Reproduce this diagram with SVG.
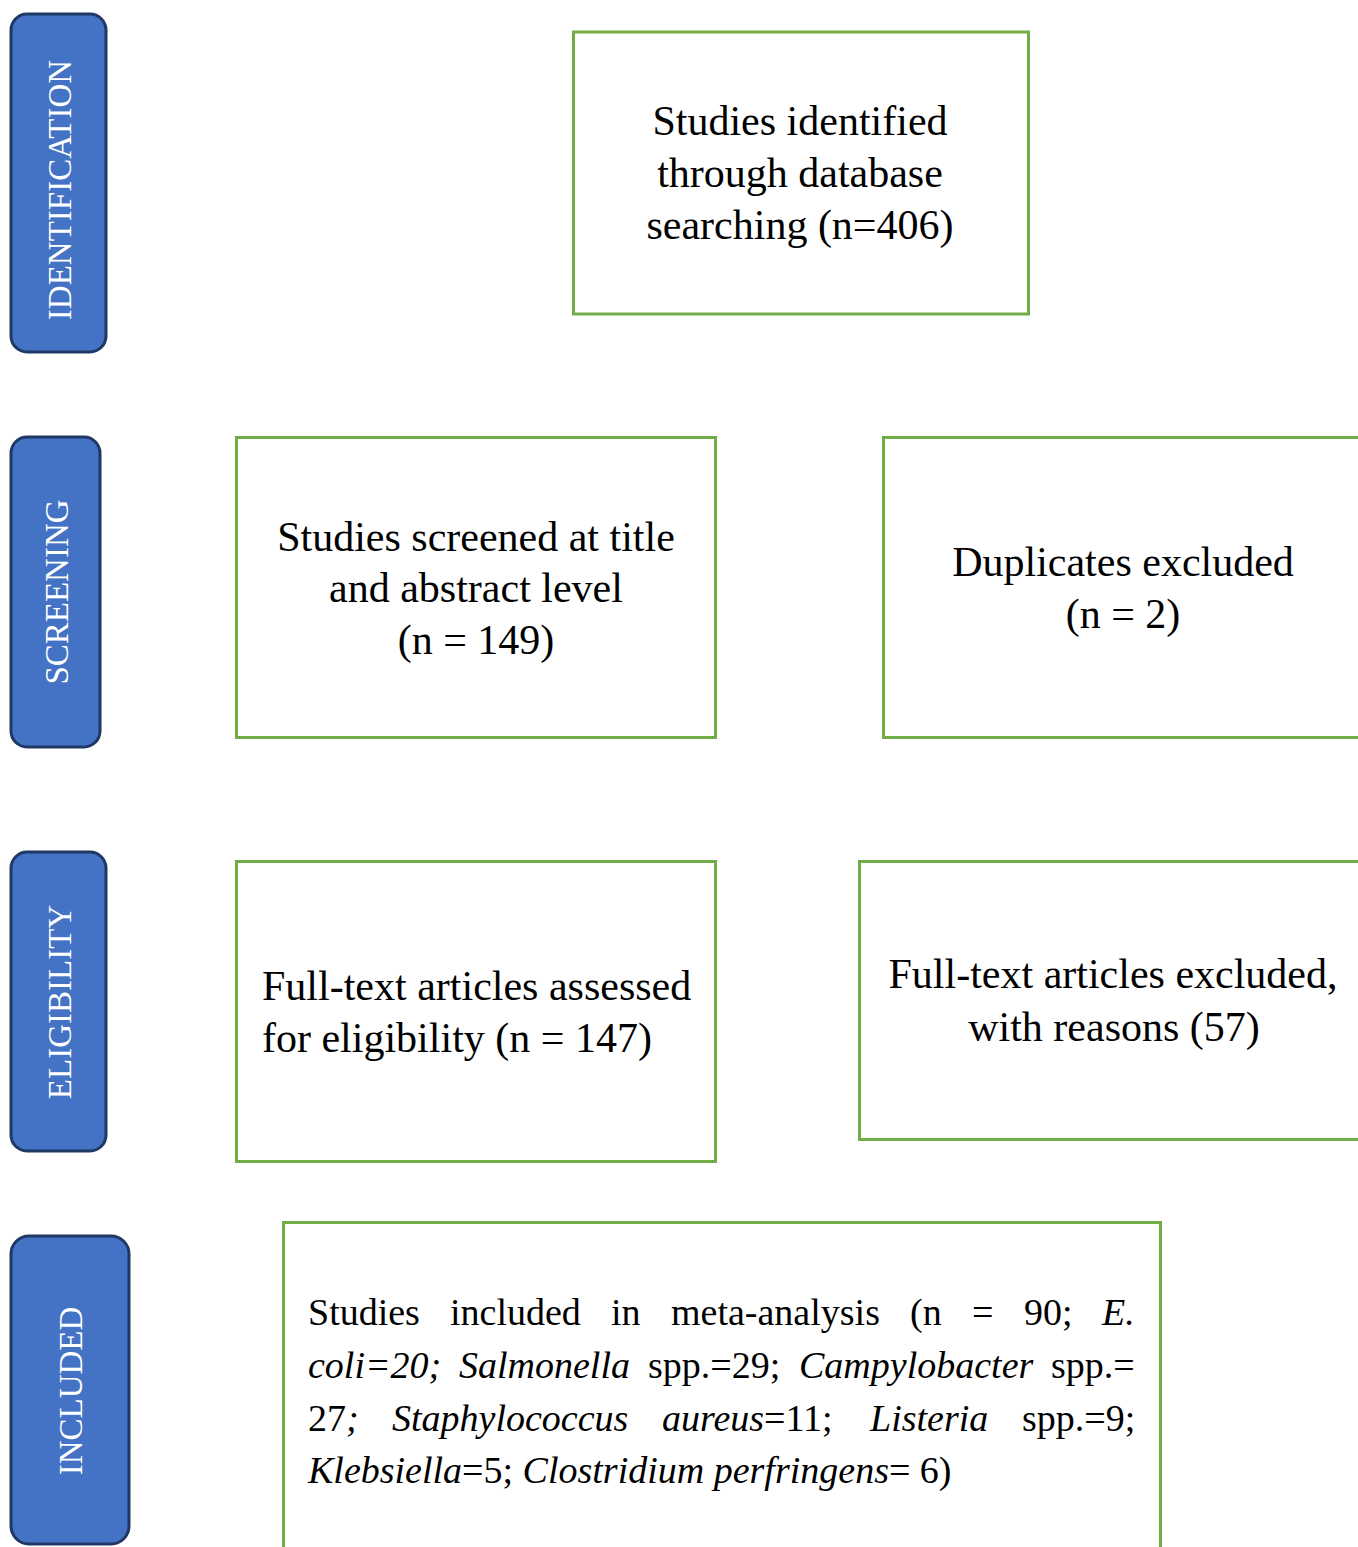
<svg xmlns="http://www.w3.org/2000/svg" width="1358" height="1547" viewBox="0 0 1358 1547">
  <style>
    .stage rect { fill: #4472C4; stroke: #1F3864; stroke-width: 3; }
    .stage text { fill: #FFFFFF; font-family: "Liberation Serif", "Times New Roman", serif; font-size: 33px; text-anchor: middle; }
    .box rect { fill: #FFFFFF; stroke: #70AD47; stroke-width: 3; }
    .box text { fill: #000000; font-family: "Liberation Serif", "Times New Roman", serif; font-size: 42px; }
    .box text.c { text-anchor: middle; }
    .box text.j { font-size: 38px; }
    .i { font-style: italic; }
  </style>
  <rect x="0" y="0" width="1358" height="1547" fill="#FFFFFF"/>

  <g id="stage-identification" class="stage">
    <rect x="11" y="14" width="95" height="338" rx="16" ry="16"/>
    <text transform="translate(71,190) rotate(-90)">IDENTIFICATION</text>
  </g>
  <g id="stage-screening" class="stage">
    <rect x="11" y="437" width="89" height="310" rx="16" ry="16"/>
    <text transform="translate(68,592) rotate(-90)">SCREENING</text>
  </g>
  <g id="stage-eligibility" class="stage">
    <rect x="11" y="852" width="95" height="299" rx="16" ry="16"/>
    <text transform="translate(71,1002) rotate(-90)">ELIGIBILITY</text>
  </g>
  <g id="stage-included" class="stage">
    <rect x="11" y="1236" width="118" height="308" rx="18" ry="18"/>
    <text transform="translate(82,1391) rotate(-90)">INCLUDED</text>
  </g>

  <g id="node-identified" class="box">
    <rect x="573.5" y="32" width="455" height="282"/>
    <text class="c" x="800" y="135">Studies identified</text>
    <text class="c" x="800" y="187">through database</text>
    <text class="c" x="800" y="239">searching (n=406)</text>
  </g>

  <g id="node-screened" class="box">
    <rect x="236.5" y="437.5" width="479" height="300"/>
    <text class="c" x="476" y="551">Studies screened at title</text>
    <text class="c" x="476" y="602">and abstract level</text>
    <text class="c" x="476" y="654">(n = 149)</text>
  </g>

  <g id="node-duplicates" class="box">
    <rect x="883.5" y="437.5" width="480" height="300"/>
    <text class="c" x="1123" y="576">Duplicates excluded</text>
    <text class="c" x="1123" y="628">(n = 2)</text>
  </g>

  <g id="node-assessed" class="box">
    <rect x="236.5" y="861.5" width="479" height="300"/>
    <text x="262" y="1000">Full-text articles assessed</text>
    <text x="262" y="1052">for eligibility (n = 147)</text>
  </g>

  <g id="node-excluded" class="box">
    <rect x="859.5" y="861.5" width="504" height="278"/>
    <text class="c" x="1113" y="988">Full-text articles excluded,</text>
    <text class="c" x="1114" y="1041">with reasons (57)</text>
  </g>

  <g id="node-included" class="box">
    <rect x="283.5" y="1222.5" width="877" height="340"/>
    <text class="j" y="1325"><tspan x="308">Studies</tspan> <tspan x="450">included</tspan> <tspan x="611">in</tspan> <tspan x="671">meta-analysis</tspan> <tspan x="910">(n</tspan> <tspan x="972">=</tspan> <tspan x="1024">90;</tspan> <tspan x="1102" class="i">E.</tspan></text>
    <text class="j" y="1378"><tspan x="308" class="i">coli=20;</tspan> <tspan x="459" class="i">Salmonella</tspan> <tspan x="648">spp.=29;</tspan> <tspan x="799" class="i">Campylobacter</tspan> <tspan x="1051">spp.=</tspan></text>
    <text class="j" y="1431"><tspan x="308">27<tspan class="i">;</tspan></tspan> <tspan x="392" class="i">Staphylococcus</tspan> <tspan x="662"><tspan class="i">aureus</tspan>=11;</tspan> <tspan x="870" class="i">Listeria</tspan> <tspan x="1022">spp.=9;</tspan></text>
    <text class="j" x="308" y="1483"><tspan class="i">Klebsiella</tspan>=5; <tspan class="i">Clostridium perfringens</tspan>= 6)</text>
  </g>

  <g id="connectors"></g>
</svg>
